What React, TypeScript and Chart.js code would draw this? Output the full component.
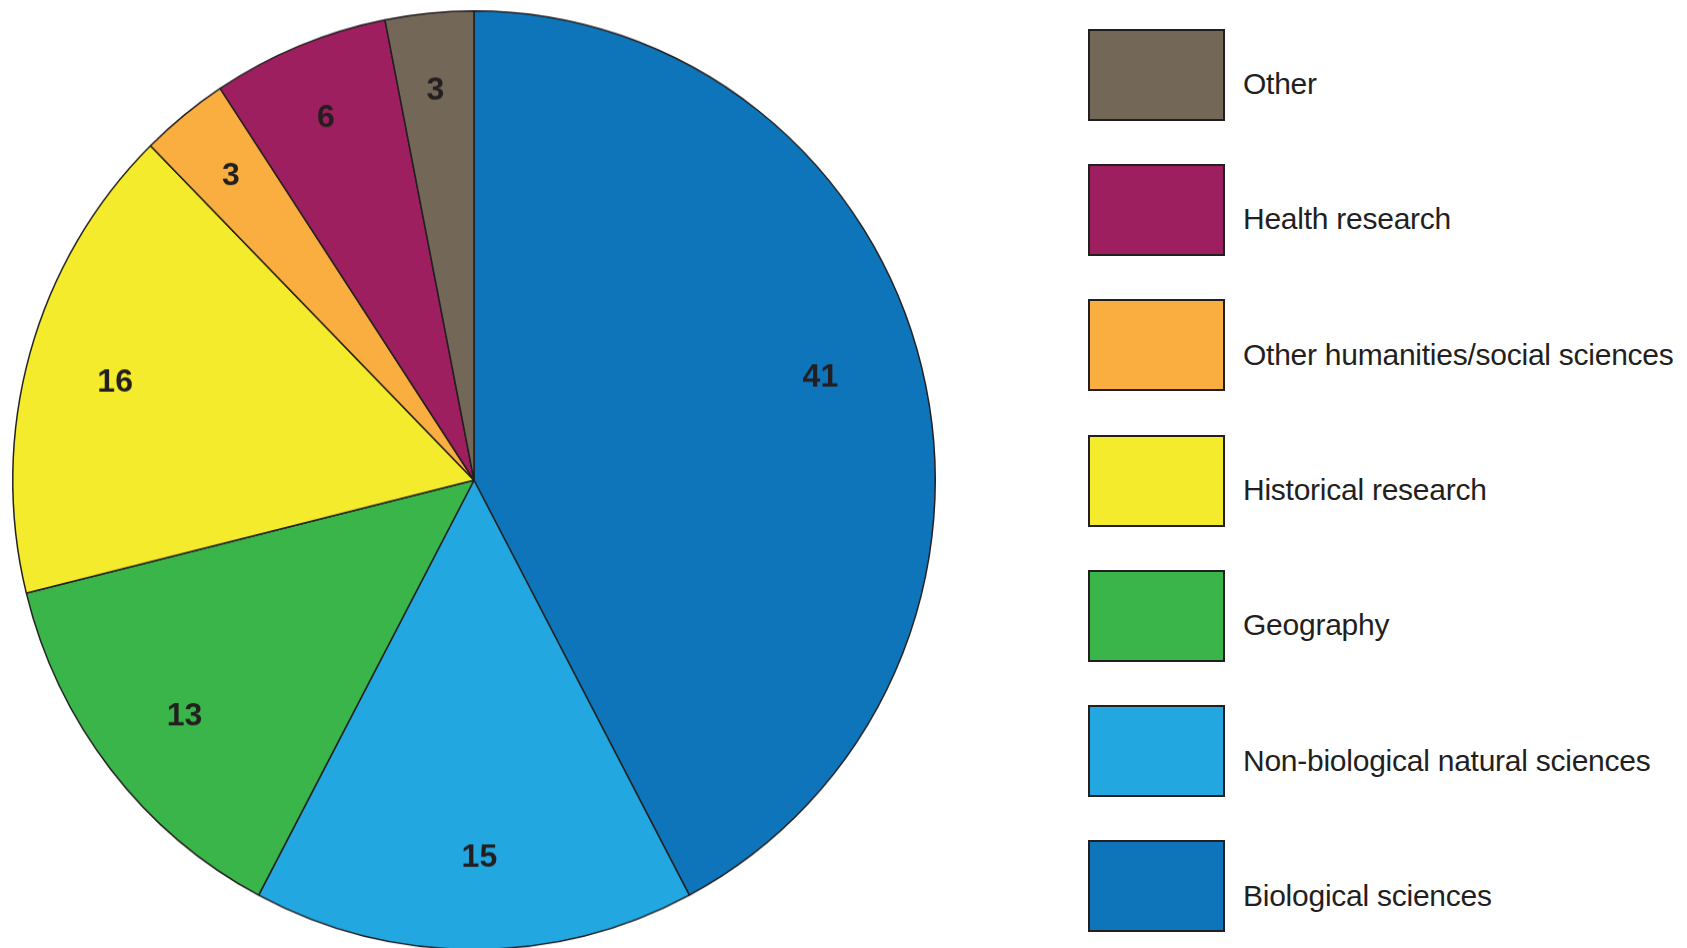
import React, { useEffect, useRef } from 'react';
import { Chart, registerables } from 'chart.js';

Chart.register(...registerables);

// Slices, clockwise from 12 o'clock
const categories = [
  'Biological sciences',
  'Non-biological natural sciences',
  'Geography',
  'Historical research',
  'Other humanities/social sciences',
  'Health research',
  'Other',
];
const values = [41, 15, 13, 16, 3, 6, 3];
const colors = ['#0f75ba', '#22a7e0', '#39b54a', '#f4eb2d', '#fbae40', '#9e1f5f', '#736757'];

const sliceLabelPlugin = {
  id: 'sliceLabels',
  afterDatasetsDraw(chart: any) {
    const meta = chart.getDatasetMeta(0);
    const ctx = chart.ctx;
    ctx.save();
    ctx.font = 'bold 32px "Liberation Sans", Arial, sans-serif';
    ctx.fillStyle = '#231f20';
    ctx.textAlign = 'center';
    ctx.textBaseline = 'middle';
    meta.data.forEach((arc: any, i: number) => {
      const p = arc.getProps(['x', 'y', 'startAngle', 'endAngle', 'outerRadius'], true);
      const v = values[i];
      // label sits at half of the value read as a percentage of the full circle
      const ang = p.startAngle + (v / 100) * Math.PI;
      const f = v < 10 ? 0.835 : v <= 20 ? 0.805 : 0.782;
      ctx.fillText(String(v), p.x + Math.cos(ang) * p.outerRadius * f, p.y + Math.sin(ang) * p.outerRadius * f);
    });
    ctx.restore();
  },
};

export default function App() {
  const canvasRef = useRef<HTMLCanvasElement | null>(null);

  useEffect(() => {
    if (!canvasRef.current) return;
    const chart = new Chart(canvasRef.current, {
      type: 'pie',
      data: {
        labels: categories,
        datasets: [
          {
            data: values,
            backgroundColor: colors,
            borderColor: '#231f20',
            borderWidth: 1.5,
          },
        ],
      },
      options: {
        animation: false,
        responsive: true,
        maintainAspectRatio: false,
        events: [],
        layout: { padding: { left: 12, right: 12, top: 10, bottom: 14 } },
        plugins: {
          legend: { display: false },
          tooltip: { enabled: false },
        },
      },
      plugins: [sliceLabelPlugin],
    });
    return () => chart.destroy();
  }, []);

  const legendItems = categories.map((c, i) => ({ label: c, color: colors[i] })).reverse();

  return (
    <div
      style={{
        position: 'fixed',
        left: 0,
        top: 0,
        width: 1687,
        height: 948,
        overflow: 'hidden',
        background: '#fff',
      }}
    >
      <div
        style={{
          position: 'absolute',
          left: 0,
          top: 0,
          width: 948,
          height: 948,
          transform: 'scaleY(1.01735)',
          transformOrigin: '0 0',
        }}
      >
        <canvas ref={canvasRef} />
      </div>
      {legendItems.map((item, i) => {
        const boxTop = 29 + i * 135.2;
        const baseline = 94 + i * 135.3;
        return (
          <React.Fragment key={item.label}>
            <div
              style={{
                position: 'absolute',
                left: 1088,
                top: boxTop,
                width: 137,
                height: 92,
                boxSizing: 'border-box',
                border: '2px solid #231f20',
                background: item.color,
              }}
            />
            <div
              style={{
                position: 'absolute',
                left: 1243,
                top: baseline - 27,
                fontFamily: '"Liberation Sans", Arial, sans-serif',
                fontSize: 30,
                lineHeight: '34px',
                letterSpacing: '-0.25px',
                color: '#231f20',
                whiteSpace: 'nowrap',
              }}
            >
              {item.label}
            </div>
          </React.Fragment>
        );
      })}
    </div>
  );
}
